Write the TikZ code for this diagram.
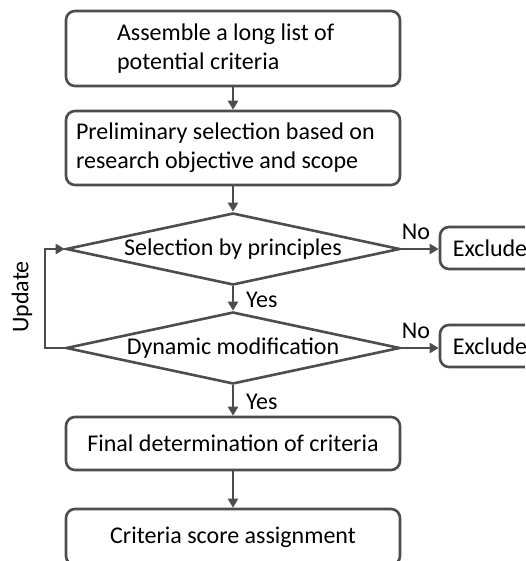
\documentclass[tikz,border=0pt]{standalone}
\usepackage{fontspec}
\setmainfont{Carlito}
\usetikzlibrary{shapes.geometric,arrows.meta}
\definecolor{edge}{RGB}{77,77,77}
\begin{document}
\begin{tikzpicture}[x=1pt,y=-1pt,
  font=\fontsize{24}{29}\selectfont,
  flowbox/.style={draw=edge,line width=2.6pt,rounded corners=9pt,minimum width=334pt,inner ysep=0pt},
  decision/.style={draw=edge,line width=2.6pt,diamond,aspect=4.6,inner sep=0pt,minimum width=334pt,minimum height=72pt},
  outbox/.style={draw=edge,line width=2.6pt,rounded corners=9pt,minimum width=100pt,minimum height=42pt,inner xsep=9pt},
  flow/.style={draw=edge,line width=2.6pt,-{Triangle[length=9pt,width=10pt]}},
  tag/.style={inner sep=0pt}]
\useasboundingbox (0,0) rectangle (525,561);
\clip (0,0) rectangle (525,561);

% main column
\node[flowbox,minimum height=75pt,text width=232pt,inner xsep=51pt,align=flush left] (list) at (233,48.5)
  {Assemble a long list of\\potential criteria};
\node[flowbox,minimum height=74pt,text width=314pt,inner xsep=10pt,align=flush left] (prelim) at (233,148)
  {Preliminary selection based on\\research objective and scope};
\node[decision] (principles) at (233,249) {Selection by principles};
\node[decision] (dynamic) at (233,348) {Dynamic modification};
\node[flowbox,minimum height=53pt] (final) at (233,443.5) {Final determination of criteria};
\node[flowbox,minimum height=56pt] (score) at (233,537) {Criteria score assignment};

% rejection branches
\node[outbox] (excl1) at (490,248) {Exclude};
\node[outbox] (excl2) at (490,346) {Exclude};

% connectors
\draw[flow] (list) -- (prelim);
\draw[flow] (prelim) -- (principles);
\draw[flow] (principles) -- (dynamic);
\draw[flow] (dynamic) -- (final);
\draw[flow] (final) -- (score);
\draw[flow] (principles.east) -- (excl1.west |- principles.east);
\draw[flow] (dynamic.east) -- (excl2.west |- dynamic.east);
\coordinate (loop) at (45,0);
\draw[flow] (dynamic.west) -- (loop |- dynamic.west) -- (loop |- principles.west) -- (principles.west);

% labels
\node[tag,anchor=west] (yes1) at (246,300) {Yes};
\node[tag,anchor=west] (yes2) at (246,402) {Yes};
\node[tag] (no1) at (416,232) {No};
\node[tag] (no2) at (416,331) {No};
\node[tag,rotate=90] (upd) at (22,297) {Update};
\end{tikzpicture}
\end{document}
